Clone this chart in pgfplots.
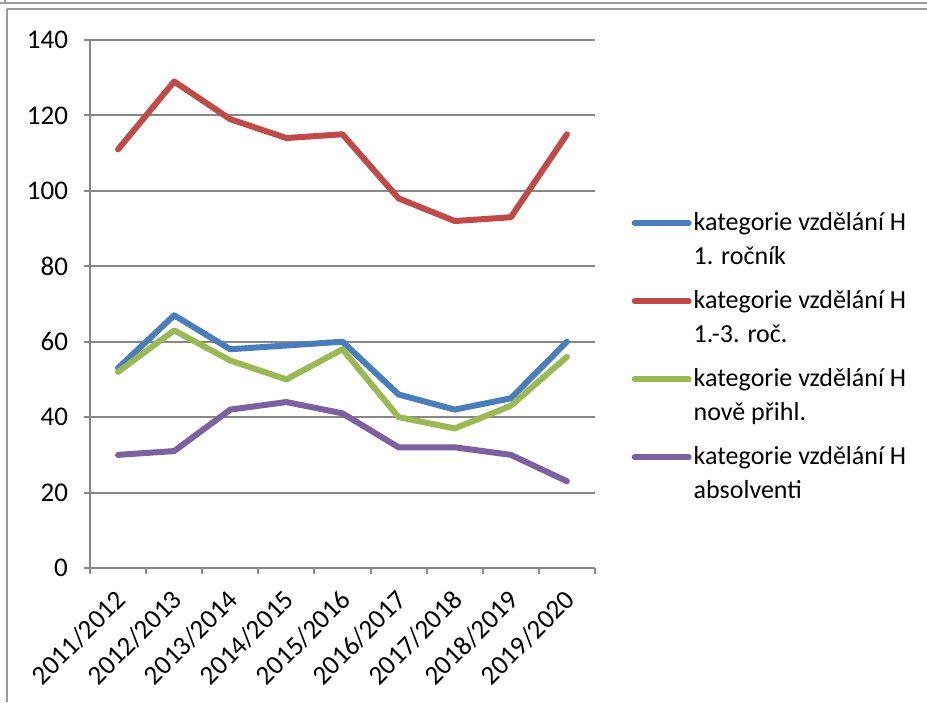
\documentclass[border=0pt]{standalone}
\usepackage{pgfplots}
\pgfplotsset{compat=1.18}
\usepackage{fontspec}
\setmainfont{Carlito}
\definecolor{cblue}{HTML}{4A7EBB}
\definecolor{cred}{HTML}{BE4B48}
\definecolor{cgreen}{HTML}{98B954}
\definecolor{cpurple}{HTML}{7D60A0}
\definecolor{gridgray}{HTML}{878787}
\definecolor{framegray}{HTML}{9A9A9A}
\begin{document}
\begin{tikzpicture}
\path[use as bounding box] (0,0) rectangle (463.5pt,351pt);
\draw[framegray, line width=1pt] (0,349.5pt) -- (463.5pt,349.5pt);
\draw[framegray, line width=1pt] (3.5pt,346.5pt) -- (463.5pt,346.5pt);
\draw[framegray, line width=1pt] (3.5pt,346.5pt) -- (3.5pt,0);
\draw[framegray, line width=1pt] (2.5pt,351pt) -- (2.5pt,349.5pt);
\begin{axis}[
  at={(45pt,67pt)}, anchor=south west,
  scale only axis, width=252.5pt, height=264pt,
  xmin=-0.5, xmax=8.5, ymin=0, ymax=140,
  axis x line*=bottom, axis y line*=left,
  axis line style={gridgray, line width=1pt},
  xtick={0,...,8},
  xticklabels={2011/2012,2012/2013,2013/2014,2014/2015,2015/2016,2016/2017,2017/2018,2018/2019,2019/2020},
  major x tick style={draw=none},
  minor xtick={-0.5,0.5,...,8.5},
  ytick={0,20,...,140},
  ymajorgrids, grid style={gridgray, line width=1pt},
  tick style={gridgray, line width=1pt},
  tick align=outside, major tick length=3pt, minor tick length=3pt,
  xticklabel shift=4pt,
  x tick label style={xshift=-2pt, rotate=45, anchor=north east, font=\fontsize{13.5}{17}\selectfont, inner sep=2pt},
  y tick label style={font=\fontsize{13.5}{17}\selectfont, xshift=-4.5pt},
  /pgf/number format/assume math mode=true,
  legend style={at={(1.06,0.685)}, anchor=north west, draw=none, fill=none,
    font=\fontsize{13}{17}\selectfont, nodes={align=left, inner sep=1pt}, row sep=9.5pt},
  legend cell align=left,
  legend image code/.code={\draw[#1, line width=3pt, line cap=round] (0pt,8.5pt)--(27pt,8.5pt);},
  every axis plot/.append style={line width=3pt, line join=round, line cap=round, mark=none},
]
\addplot[cblue] coordinates {(0,53) (1,67) (2,58) (3,59) (4,60) (5,46) (6,42) (7,45) (8,60)};
\addlegendentry{kategorie vzdělání H\\1. ročník}
\addplot[cred] coordinates {(0,111) (1,129) (2,119) (3,114) (4,115) (5,98) (6,92) (7,93) (8,115)};
\addlegendentry{kategorie vzdělání H\\1.-3. roč.}
\addplot[cgreen] coordinates {(0,52) (1,63) (2,55) (3,50) (4,58) (5,40) (6,37) (7,43) (8,56)};
\addlegendentry{kategorie vzdělání H\\nově přihl.}
\addplot[cpurple] coordinates {(0,30) (1,31) (2,42) (3,44) (4,41) (5,32) (6,32) (7,30) (8,23)};
\addlegendentry{kategorie vzdělání H\\absolventi}
\end{axis}
\end{tikzpicture}
\end{document}
